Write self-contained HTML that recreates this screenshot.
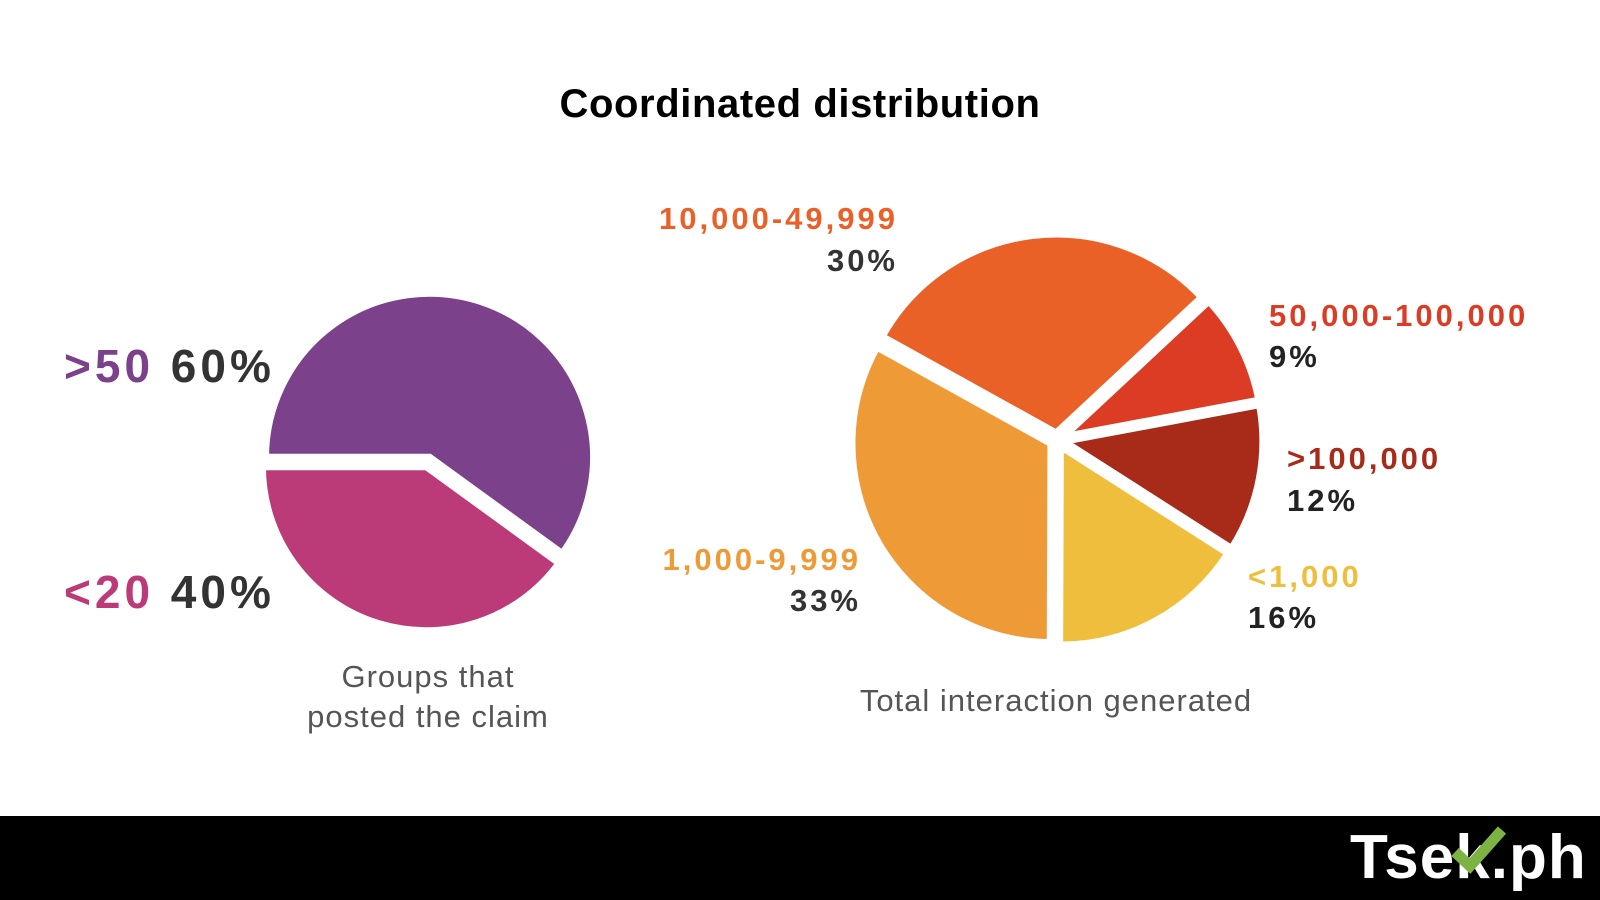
<!DOCTYPE html>
<html><head><meta charset="utf-8"><style>
html,body{margin:0;padding:0;background:#fff;width:1600px;height:900px;overflow:hidden;font-family:"Liberation Sans",sans-serif}
svg{display:block}
</style></head><body>
<svg id="chart" width="1600" height="900" viewBox="0 0 1600 900">
<text x="800" y="117" text-anchor="middle" font-size="40" font-weight="bold" letter-spacing="0.6" fill="#000">Coordinated distribution</text>
<g id="leftPie"></g>
<g id="rightPie"></g>
<text x="64" y="382" font-size="46" font-weight="bold" letter-spacing="4"><tspan fill="#7b418a">&gt;50</tspan><tspan fill="#333"> 60%</tspan></text>
<text x="64" y="608" font-size="46" font-weight="bold" letter-spacing="4"><tspan fill="#bb3a78">&lt;20</tspan><tspan fill="#333"> 40%</tspan></text>
<text x="428" y="687" text-anchor="middle" font-size="31" letter-spacing="1" fill="#555">Groups that</text>
<text x="428" y="727" text-anchor="middle" font-size="31" letter-spacing="1" fill="#555">posted the claim</text>
<text x="1056" y="711" text-anchor="middle" font-size="31" letter-spacing="1" fill="#555">Total interaction generated</text>
<g font-size="31" font-weight="bold" letter-spacing="3">
<text x="898" y="229" text-anchor="end" fill="#ea6128">10,000-49,999</text>
<text x="898" y="271" text-anchor="end" fill="#333">30%</text>
<text x="1269" y="326" fill="#dc3c24">50,000-100,000</text>
<text x="1269" y="367" fill="#222">9%</text>
<text x="1287" y="469" fill="#a72b18">&gt;100,000</text>
<text x="1287" y="511" fill="#222">12%</text>
<text x="861" y="570" text-anchor="end" fill="#ee9a36">1,000-9,999</text>
<text x="861" y="611" text-anchor="end" fill="#333">33%</text>
<text x="1248" y="587" fill="#eebe3c">&lt;1,000</text>
<text x="1248" y="628" fill="#222">16%</text>
</g>
<rect x="0" y="816" width="1600" height="84" fill="#000"/>
<text x="1350" y="878" font-size="62" font-weight="bold" letter-spacing="1" fill="#fff">Tsek.ph</text>
<path d="M1455 852 L1470 866 L1502 830" stroke="#7cb342" stroke-width="11" fill="none"/>
</svg>
<script>
const leftCats=[">50","<20"];
const leftVals=[60,40];
const leftColors=["#7b418a","#bb3a78"];
const rightCats=["10,000-49,999","50,000-100,000",">100,000","<1,000","1,000-9,999"];
const rightVals=[30,9,12,16,33];
const rightColors=["#ea6128","#dc3c24","#a72b18","#eebe3c","#ee9a36"];
const NS="http://www.w3.org/2000/svg";
function drawPie(gid,vals,colors,cx,cy,r,startDeg,explode,names){
  const g=document.getElementById(gid);
  const total=vals.reduce((a,b)=>a+b,0);
  let a=startDeg*Math.PI/180;
  vals.forEach((v,i)=>{
    const sweep=v/total*2*Math.PI;
    const mid=a+sweep/2;
    const ox=cx+explode*Math.cos(mid), oy=cy+explode*Math.sin(mid);
    const x1=ox+r*Math.cos(a), y1=oy+r*Math.sin(a);
    const x2=ox+r*Math.cos(a+sweep), y2=oy+r*Math.sin(a+sweep);
    const p=document.createElementNS(NS,"path");
    p.setAttribute("d",`M${ox},${oy} L${x1},${y1} A${r},${r} 0 ${sweep>Math.PI?1:0} 1 ${x2},${y2} Z`);
    p.setAttribute("fill",colors[i]);
    p.setAttribute("stroke","#fff");
    p.setAttribute("stroke-width","7");
    
    
    g.appendChild(p);
    a+=sweep;
  });
}
drawPie("leftPie",leftVals,leftColors,428,462,164,180,5,["over-50","under-20"]);
drawPie("rightPie",rightVals,rightColors,1057,440,199,209,7,["10000-49999","50000-100000","over-100000","under-1000","1000-9999"]);
</script>
</body></html>
